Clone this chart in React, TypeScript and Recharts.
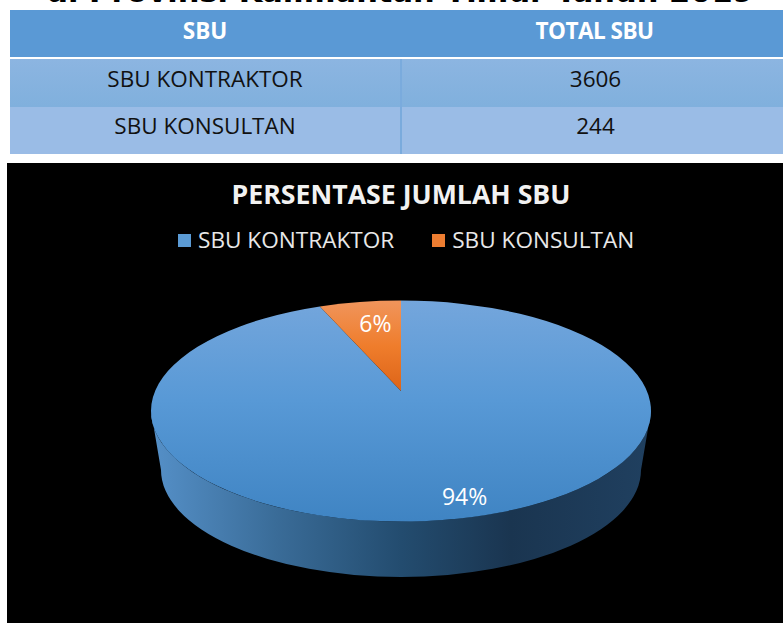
import React from "react";
import { PieChart, Pie, Legend } from "recharts";

const FONT = "'Open Sans', sans-serif";
const heading = "di Provinsi Kalimantan Timur Tahun 2019";
const tableHeaders = ["SBU", "TOTAL SBU"];
const categories = ["SBU KONTRAKTOR", "SBU KONSULTAN"];
const totals = [3606, 244];
const sliceColors = ["#5b9bd5", "#ed7d31"];
const chartTitle = "PERSENTASE JUMLAH SBU";
const labelNudges = [
  { dx: 28, dy: 7 },
  { dx: 10, dy: -10 },
];

const pieData = categories.map((name, i) => ({ name, value: totals[i], fill: sliceColors[i] }));

const SQUASH = 0.442;
const APEX_LIFT = 20;
const FORESHORTEN = 0.83;
const DEPTH = 59;
const BOTTOM_RX = 0.96;
const BOTTOM_RY = 0.428;

const rad = (d: number) => (d * Math.PI) / 180;
const toTopDelta = (angle: number) => {
  let d = (90 - angle) % 360;
  if (d > 180) d -= 360;
  if (d <= -180) d += 360;
  return d * FORESHORTEN;
};

function SliceShape(props: any) {
  const { cx, cy, outerRadius, startAngle, endAngle, index } = props;
  const rx = outerRadius;
  const ry = outerRadius * SQUASH;
  const d1 = toTopDelta(startAngle);
  const d2 = toTopDelta(endAngle);
  const p = (d: number) => [cx + rx * Math.sin(rad(d)), cy - ry * Math.cos(rad(d))];
  const [x1, y1] = p(d1);
  const [x2, y2] = p(d2);
  const sweep = ((d2 - d1) % 360 + 360) % 360;
  const large = sweep > 180 ? 1 : 0;
  const top = `M${cx},${cy - APEX_LIFT} L${x1},${y1} A${rx},${ry} 0 ${large} 1 ${x2},${y2} Z`;
  const brx = rx * BOTTOM_RX;
  const bry = rx * BOTTOM_RY;
  const by = cy + DEPTH;
  const side = `M${cx - rx},${cy} L${cx - brx},${by} A${brx},${bry} 0 0 0 ${cx + brx},${by} L${cx + rx},${cy} A${rx},${ry} 0 0 1 ${cx - rx},${cy} Z`;
  return (
    <g>
      <defs>
        <linearGradient id="blueTop" x1="0" y1="0" x2="0" y2="1">
          <stop offset="0" stopColor="#74a6dc" />
          <stop offset="0.45" stopColor="#5899d6" />
          <stop offset="1" stopColor="#3f84c3" />
        </linearGradient>
        <linearGradient id="orangeTop" x1="0" y1="0" x2="0" y2="1">
          <stop offset="0" stopColor="#f0955c" />
          <stop offset="0.5" stopColor="#ef7d2c" />
          <stop offset="1" stopColor="#dd6418" />
        </linearGradient>
        <linearGradient id="blueSide" x1="0" y1="0" x2="1" y2="0">
          <stop offset="0" stopColor="#5590c8" />
          <stop offset="0.25" stopColor="#3a6c98" />
          <stop offset="0.5" stopColor="#234c6f" />
          <stop offset="0.72" stopColor="#1a3550" />
          <stop offset="1" stopColor="#204060" />
        </linearGradient>
      </defs>
      {index === 0 && <path d={side} fill="url(#blueSide)" />}
      <path d={top} fill={index === 0 ? "url(#blueTop)" : "url(#orangeTop)"} />
    </g>
  );
}

function SliceLabel(props: any) {
  const { cx, cy, midAngle, outerRadius, percent, index } = props;
  const a = rad(midAngle);
  const x = cx + outerRadius * 0.72 * Math.cos(a) + labelNudges[index].dx;
  const y = cy - outerRadius * SQUASH * 0.72 * Math.sin(a) + labelNudges[index].dy;
  return (
    <text x={x} y={y} fill="#ffffff" fontFamily={FONT} fontSize={23} textAnchor="middle" dominantBaseline="central">
      {`${Math.round(percent * 100)}%`}
    </text>
  );
}

function LegendContent({ payload }: any) {
  return (
    <div style={{ display: "flex", justifyContent: "flex-start", fontFamily: FONT, fontSize: 22.6, color: "#e8e8e8", lineHeight: "30px" }}>
      {(payload || []).map((item: any, i: number) => (
        <div key={item.value} style={{ display: "flex", alignItems: "center", marginRight: i === 0 ? 38 : 0 }}>
          <span style={{ width: 13, height: 13, background: item.color, display: "inline-block", marginRight: 7 }} />
          <span style={{ whiteSpace: "nowrap" }}>{item.value}</span>
        </div>
      ))}
    </div>
  );
}

const cell: React.CSSProperties = {
  position: "absolute",
  display: "flex",
  alignItems: "center",
  justifyContent: "center",
  fontFamily: FONT,
  fontSize: 22.5,
  color: "#111",
  whiteSpace: "nowrap",
};

export default function App() {
  return (
    <div style={{ position: "fixed", left: 0, top: 0, width: 783, height: 623, overflow: "hidden", background: "#fff" }}>
      <div style={{ position: "absolute", left: 0, width: 800, top: -28, textAlign: "center", fontFamily: "'DejaVu Sans', sans-serif", fontWeight: 700, fontSize: 30.5, lineHeight: "40px", color: "#000", whiteSpace: "nowrap" }}>
        {heading}
      </div>

      <div style={{ ...cell, left: 10, top: 10, width: 773, height: 47, background: "#5a99d5" }} />
      <div style={{ ...cell, left: 10, top: 59, width: 773, height: 48, background: "linear-gradient(#8cb5e1,#80b0dd)" }} />
      <div style={{ ...cell, left: 10, top: 107, width: 773, height: 47, background: "#9abce6" }} />
      <div style={{ ...cell, left: 400, top: 59, width: 2, height: 95, background: "#7aabdd" }} />

      <div style={{ ...cell, left: 10, top: 7, width: 390, height: 47, color: "#fff", fontWeight: 700 }}>{tableHeaders[0]}</div>
      <div style={{ ...cell, left: 404, top: 7, width: 381, height: 47, color: "#fff", fontWeight: 700, letterSpacing: -0.5 }}>{tableHeaders[1]}</div>
      {categories.map((c, i) => (
        <React.Fragment key={c}>
          <div style={{ ...cell, left: 10, top: 55 + i * 47, width: 390, height: 47 }}>{c}</div>
          <div style={{ ...cell, left: 405, top: 55 + i * 47, width: 381, height: 47 }}>{totals[i]}</div>
        </React.Fragment>
      ))}

      <div style={{ position: "absolute", left: 7, top: 163, width: 776, height: 460, background: "#000" }}>
        <div style={{ position: "absolute", left: 0, top: 14, width: 788, textAlign: "center", fontFamily: FONT, fontWeight: 700, fontSize: 26.7, lineHeight: "34px", color: "#f2f2f2", zIndex: 1 }}>
          {chartTitle}
        </div>
        <PieChart width={776} height={460} margin={{ top: 0, right: 0, bottom: 0, left: 0 }}>
          <Legend
            layout="horizontal"
            verticalAlign="top"
            align="left"
            itemSorter={null}
            wrapperStyle={{ top: 62, left: 171, width: 560 }}
            content={<LegendContent />}
          />
          <Pie
            data={pieData}
            dataKey="value"
            nameKey="name"
            cx={394}
            cy={218}
            outerRadius={250}
            startAngle={90}
            endAngle={-270}
            legendType="square"
            stroke="none"
            isAnimationActive={false}
            shape={SliceShape}
            label={SliceLabel}
            labelLine={false}
          />
        </PieChart>
      </div>
    </div>
  );
}
